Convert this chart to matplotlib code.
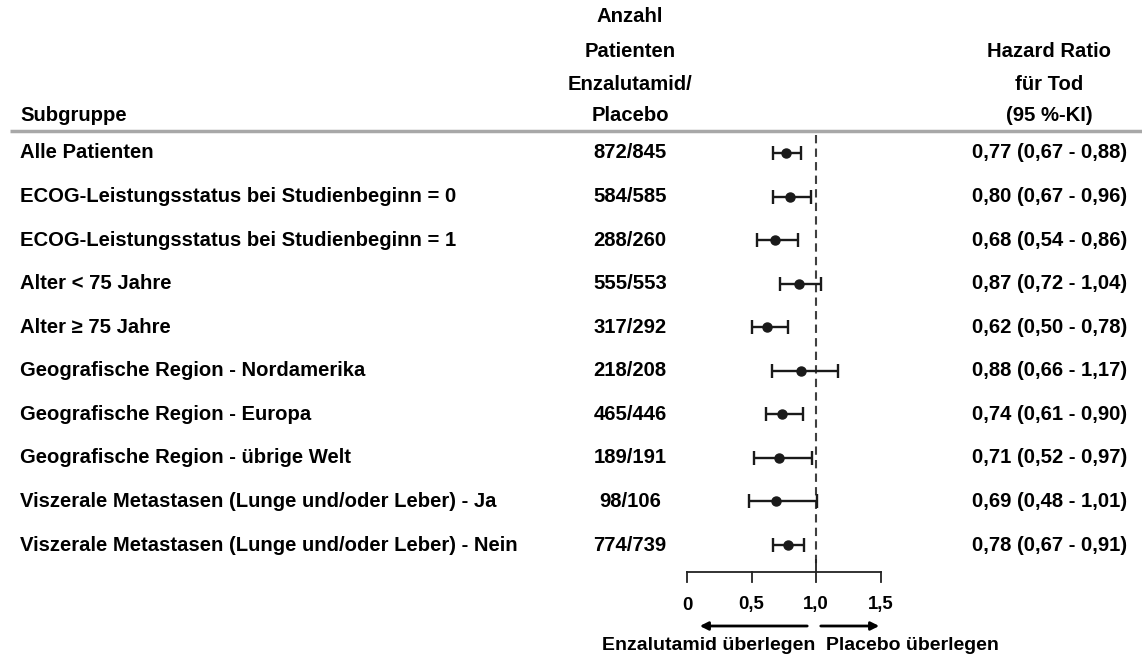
import matplotlib
matplotlib.use("Agg")
import matplotlib.pyplot as plt
from matplotlib import font_manager

subgroups = [
    "Alle Patienten",
    "ECOG-Leistungsstatus bei Studienbeginn = 0",
    "ECOG-Leistungsstatus bei Studienbeginn = 1",
    "Alter < 75 Jahre",
    "Alter \u2265 75 Jahre",
    "Geografische Region - Nordamerika",
    "Geografische Region - Europa",
    "Geografische Region - \u00fcbrige Welt",
    "Viszerale Metastasen (Lunge und/oder Leber) - Ja",
    "Viszerale Metastasen (Lunge und/oder Leber) - Nein",
]
n_enza = [872, 584, 288, 555, 317, 218, 465, 189, 98, 774]
n_plac = [845, 585, 260, 553, 292, 208, 446, 191, 106, 739]
hr = [0.77, 0.80, 0.68, 0.87, 0.62, 0.88, 0.74, 0.71, 0.69, 0.78]
lo = [0.67, 0.67, 0.54, 0.72, 0.50, 0.66, 0.61, 0.52, 0.48, 0.67]
hi = [0.88, 0.96, 0.86, 1.04, 0.78, 1.17, 0.90, 0.97, 1.01, 0.91]
ticks = [0, 0.5, 1.0, 1.5]
tick_labels = ["0", "0,5", "1,0", "1,5"]

names = {f.name for f in font_manager.fontManager.ttflist}
fam = ["Liberation Sans Narrow", "Liberation Sans", "DejaVu Sans"]
fam = [f for f in fam if f in names] or ["DejaVu Sans"]
plt.rcParams["font.family"] = fam
plt.rcParams["font.weight"] = "bold"
FS = 14.6

W, H = 1142, 654
fig = plt.figure(figsize=(W / 100, H / 100), dpi=100)
ax = fig.add_axes([0, 0, 1, 1])
ax.axis("off")

# pixel layout -> data coords
x0, scale = 687, 129.0
row0, rstep = 153, 43.56
ax.set_xlim(-x0 / scale, (W - x0) / scale)
ax.set_ylim((H - row0) / rstep, -row0 / rstep)


def py(p):
    return (p - row0) / rstep


def px(p):
    return (p - x0) / scale


fmt = lambda v: f"{v:.2f}".replace(".", ",")

# header
ax.text(px(20), py(116), "Subgruppe", ha="left", va="center", fontsize=FS)
for txt, yy in zip(["Anzahl", "Patienten", "Enzalutamid/", "Placebo"], [17, 52, 85, 116]):
    ax.text(px(630), py(yy), txt, ha="center", va="center", fontsize=FS)
for txt, yy in zip(["Hazard Ratio", "f\u00fcr Tod", "(95 %-KI)"], [52, 85, 116]):
    ax.text(px(1049), py(yy), txt, ha="center", va="center", fontsize=FS)
ax.plot([px(10), px(W)], [py(131), py(131)], color="#a8a8a8", lw=2.5,
        solid_capstyle="butt")

# rows
for i in range(len(subgroups)):
    ax.text(px(20), i, subgroups[i], ha="left", va="center", fontsize=FS)
    ax.text(px(630), i, f"{n_enza[i]}/{n_plac[i]}", ha="center", va="center", fontsize=FS)
    ax.text(px(1127), i, f"{fmt(hr[i])} ({fmt(lo[i])} - {fmt(hi[i])})",
            ha="right", va="center", fontsize=FS)

# reference line
ax.plot([1.0, 1.0], [py(135), py(566)], color="#404040", lw=1.5, ls=(0, (4, 2.5)))

# estimates with CIs
ys = list(range(len(hr)))
ax.errorbar(hr, ys, xerr=[[h - l for h, l in zip(hr, lo)], [u - h for h, u in zip(hr, hi)]],
            fmt="o", color="#1a1a1a", ms=6.5, elinewidth=1.7, capsize=4.7, capthick=1.7)

# scale
ya = py(572)
ax.plot([ticks[0], ticks[-1]], [ya, ya], color="#222222", lw=1.3)
for t, lab in zip(ticks, tick_labels):
    top = py(560) if t == 1.0 else ya
    ax.plot([t, t], [top, py(582)], color="#222222", lw=1.3)
    ax.text(t, py(605), lab, ha="center", va="center", fontsize=FS - 1.2)

ax.annotate("", xy=(px(697), py(626)), xytext=(px(810), py(626)),
            arrowprops=dict(arrowstyle="-|>", color="black", lw=2, mutation_scale=12))
ax.annotate("", xy=(px(882), py(626)), xytext=(px(818), py(626)),
            arrowprops=dict(arrowstyle="-|>", color="black", lw=2, mutation_scale=12))
ax.text(px(709), py(645), "Enzalutamid \u00fcberlegen", ha="center", va="center", fontsize=FS - 0.6)
ax.text(px(912), py(645), "Placebo \u00fcberlegen", ha="center", va="center", fontsize=FS - 0.6)

fig.savefig("out.png", dpi=100)
